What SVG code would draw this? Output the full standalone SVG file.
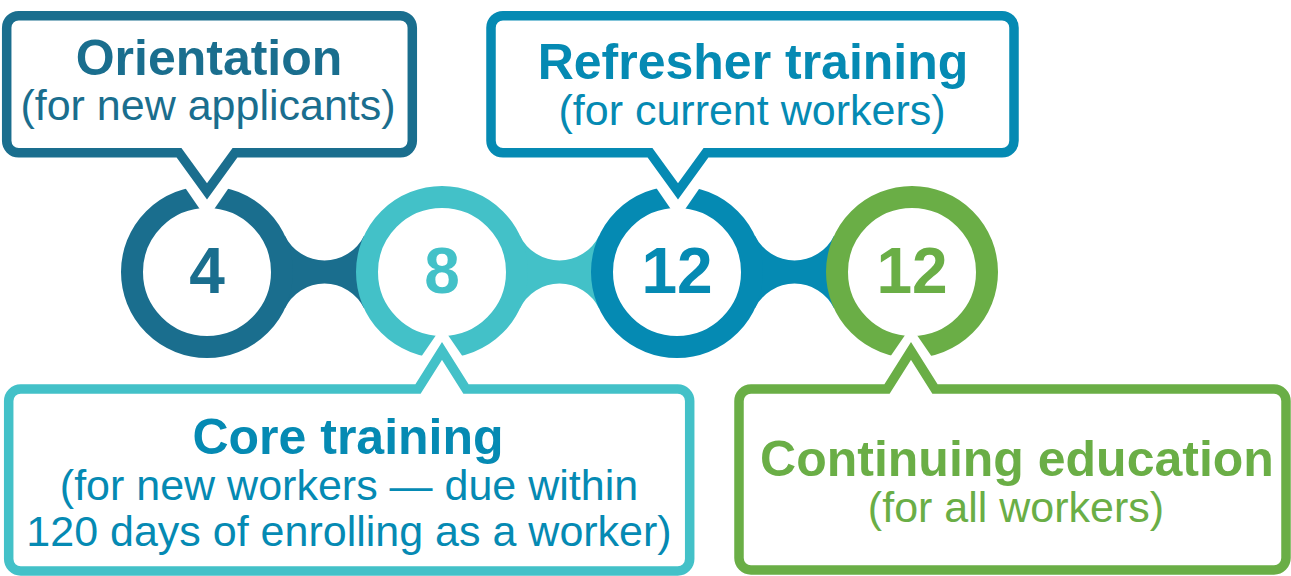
<svg xmlns="http://www.w3.org/2000/svg" width="1291" height="576" viewBox="0 0 1291 576">
<style>
  .t { font-family: "Liberation Sans", Arial, Helvetica, sans-serif; text-anchor: middle; }
  .title { font-size: 50px; font-weight: bold; }
  .sub { font-size: 43px; }
  .num { font-size: 64px; font-weight: bold; }
  .ring { fill: #fff; stroke-width: 22; }
  .box { fill: #fff; stroke-width: 9.5; stroke-linejoin: miter; stroke-miterlimit: 10; }
  .gap { fill: #fff; }
  .c1 { stroke: #1A6E8E; } .f1 { fill: #1A6E8E; }
  .c2 { stroke: #43C1C8; } .f2 { fill: #43C1C8; }
  .c3 { stroke: #058AB3; } .f3 { fill: #058AB3; }
  .c4 { stroke: #6AAE46; } .f4 { fill: #6AAE46; }
</style>
<g id="connectors">
  <path class="f1" d="M284.73,235.21 A44,44 0 0 0 364.27,235.21 L364.27,308.79 A44,44 0 0 0 284.73,308.79 Z"/>
  <path class="f2" d="M519.73,235.21 A44,44 0 0 0 599.27,235.21 L599.27,308.79 A44,44 0 0 0 519.73,308.79 Z"/>
  <path class="f3" d="M754.73,235.21 A44,44 0 0 0 834.27,235.21 L834.27,308.79 A44,44 0 0 0 754.73,308.79 Z"/>
</g>
<g id="circle-4-orientation">
  <circle class="ring c1" cx="207" cy="272" r="75"/>
  <text class="t num f1" x="207" y="293">4</text>
</g>
<g id="circle-8-core">
  <circle class="ring c2" cx="442" cy="272" r="75"/>
  <text class="t num f2" x="442" y="293">8</text>
</g>
<g id="circle-12-refresher">
  <circle class="ring c3" cx="677" cy="272" r="75"/>
  <text class="t num f3" x="677" y="293">12</text>
</g>
<g id="circle-12-continuing">
  <circle class="ring c4" cx="912" cy="272" r="75"/>
  <text class="t num f4" x="912" y="293">12</text>
</g>
<g id="callout-orientation">
  <polygon class="gap" points="178.4,178 235.6,178 207,219.5"/>
  <path class="box c1" d="M18.7,15.7 H400.3 A12,12 0 0 1 412.3,27.7 V140.8 A12,12 0 0 1 400.3,152.8 H235 L207,191.3 L179,152.8 H18.7 A12,12 0 0 1 6.7,140.8 V27.7 A12,12 0 0 1 18.7,15.7 Z"/>
  <text class="t title f1" x="209" y="75">Orientation</text>
  <text class="t sub f1" x="208" y="120">(for new applicants)</text>
</g>
<g id="callout-refresher">
  <polygon class="gap" points="649.4,178 706.6,178 678,219.5"/>
  <path class="box c3" d="M503,15.7 H1002 A12,12 0 0 1 1014,27.7 V140.8 A12,12 0 0 1 1002,152.8 H706 L678,191.3 L650,152.8 H503 A12,12 0 0 1 491,140.8 V27.7 A12,12 0 0 1 503,15.7 Z"/>
  <text class="t title f3" x="753" y="79">Refresher training</text>
  <text class="t sub f3" x="752" y="125">(for current workers)</text>
</g>
<g id="callout-core">
  <polygon class="gap" points="442,326.5 470.6,368 413.4,368"/>
  <path class="box c2" d="M20.7,389 H418 L442,351 L466,389 H677.7 A12,12 0 0 1 689.7,401 V559 A12,12 0 0 1 677.7,571 H20.7 A12,12 0 0 1 8.7,559 V401 A12,12 0 0 1 20.7,389 Z"/>
  <text class="t title f3" x="348" y="454">Core training</text>
  <text class="t sub f3" x="349" y="500">(for new workers — due within</text>
  <text class="t sub f3" x="349" y="546">120 days of enrolling as a worker)</text>
</g>
<g id="callout-continuing">
  <polygon class="gap" points="911,326.5 939.6,368 882.4,368"/>
  <path class="box c4" d="M751,389 H887 L911,351 L935,389 H1274 A12,12 0 0 1 1286,401 V558 A12,12 0 0 1 1274,570 H751 A12,12 0 0 1 739,558 V401 A12,12 0 0 1 751,389 Z"/>
  <text class="t title f4" x="1017" y="476">Continuing education</text>
  <text class="t sub f4" x="1016" y="522">(for all workers)</text>
</g>
</svg>
